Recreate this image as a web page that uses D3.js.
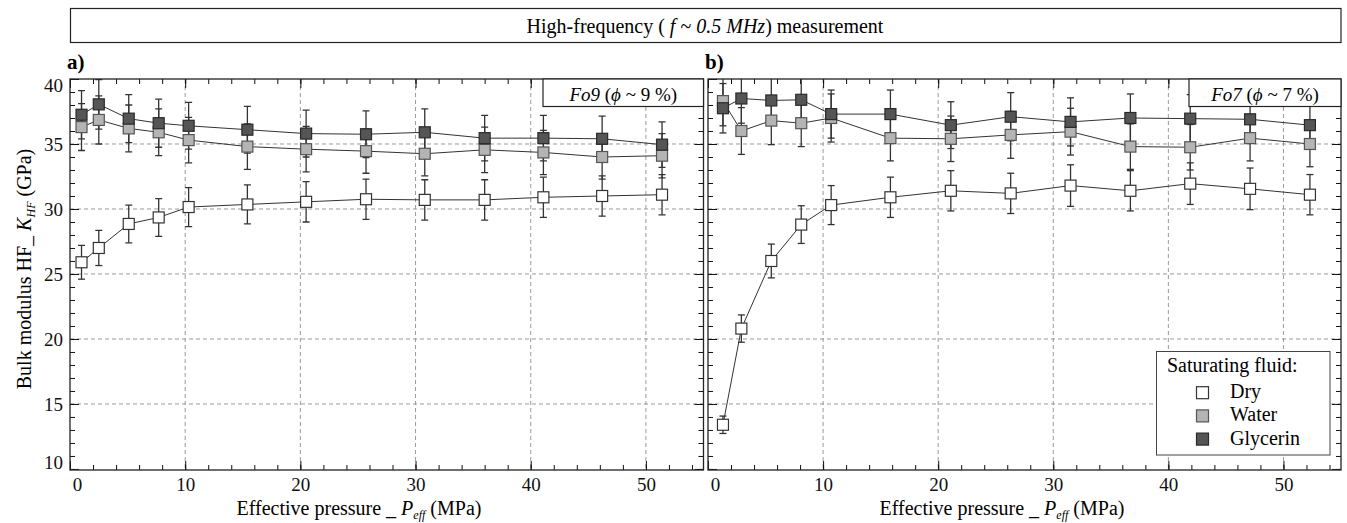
<!DOCTYPE html>
<html>
<head>
<meta charset="utf-8">
<script src="https://cdn.jsdelivr.net/npm/d3@7"></script>
<style>
body { margin: 0; background: #fff; }
svg { font-family: "Liberation Serif", "DejaVu Serif", serif; }
</style>
</head>
<body>
<svg id="svg" width="1347" height="523"></svg>
<script>
// panel a, Fo9
var pressA = [1.0, 2.5, 5.1, 7.7, 10.3, 15.4, 20.5, 25.7, 30.8, 36.0, 41.1, 46.2, 51.4];
var dryA = [25.9, 27.0, 28.85, 29.35, 30.15, 30.35, 30.55, 30.75, 30.7, 30.7, 30.9, 31.0, 31.1];
var dryErrA = [1.3, 1.35, 1.45, 1.45, 1.5, 1.5, 1.55, 1.55, 1.55, 1.55, 1.55, 1.55, 1.55];
var waterA = [36.3, 36.85, 36.2, 35.9, 35.3, 34.8, 34.6, 34.45, 34.25, 34.55, 34.35, 34.0, 34.1];
var waterErrA = [1.8, 1.85, 1.8, 1.8, 1.75, 1.75, 1.75, 1.7, 1.7, 1.75, 1.7, 1.7, 1.7];
var glyA = [37.25, 38.05, 36.95, 36.6, 36.4, 36.1, 35.8, 35.75, 35.9, 35.45, 35.45, 35.4, 34.95];
var glyErrA = [1.85, 1.9, 1.85, 1.85, 1.8, 1.8, 1.8, 1.8, 1.8, 1.75, 1.75, 1.75, 1.75];

// panel b, Fo7
var pressB = [1.3, 2.9, 5.5, 8.1, 10.7, 15.85, 21.1, 26.3, 31.5, 36.7, 41.9, 47.1, 52.3];
var dryB = [13.4, 20.8, 26.0, 28.8, 30.3, 30.9, 31.4, 31.2, 31.8, 31.4, 31.95, 31.55, 31.1];
var dryErrB = [0.67, 1.05, 1.3, 1.45, 1.5, 1.55, 1.55, 1.55, 1.6, 1.55, 1.6, 1.6, 1.55];
var waterB = [38.3, 36.0, 36.8, 36.6, 37.0, 35.45, 35.4, 35.7, 35.95, 34.8, 34.75, 35.45, 35.0];
var waterErrB = [1.9, 1.8, 1.85, 1.8, 1.85, 1.75, 1.75, 1.8, 1.8, 1.75, 1.75, 1.75, 1.75];
var glyB = [37.75, 38.5, 38.35, 38.4, 37.3, 37.3, 36.45, 37.1, 36.7, 37.0, 36.95, 36.9, 36.45];
var glyErrB = [1.9, 1.9, 1.9, 1.9, 1.85, 1.85, 1.8, 1.85, 1.85, 1.85, 1.85, 1.85, 1.8];

var fluids = ["Dry", "Water", "Glycerin"];
var xTicks = [0, 10, 20, 30, 40, 50];
var yTicks = [10, 15, 20, 25, 30, 35, 40];

// look of each fluid
var look = {
    Dry: { fill: "#ffffff", stroke: "#333" },
    Water: { fill: "#b4b4b4", stroke: "#555" },
    Glycerin: { fill: "#555555", stroke: "#2a2a2a" }
};

var svg = d3.select("#svg");
var plotTop = 79, plotBottom = 470;
var y = d3.scaleLinear().domain([9.92, 40]).range([plotBottom, plotTop]);

// big title box
svg.append("rect").attr("x", 70.5).attr("y", 8.5).attr("width", 1270.5).attr("height", 34)
    .attr("fill", "none").attr("stroke", "#222").attr("stroke-width", 1.2);
var title = svg.append("text").attr("x", 705).attr("y", 33).attr("text-anchor", "middle")
    .attr("font-size", 20);
title.append("tspan").text("High-frequency ( ");
title.append("tspan").attr("font-style", "italic").text("f");
title.append("tspan").text(" ~ ");
title.append("tspan").attr("font-style", "italic").text("0.5 MHz");
title.append("tspan").text(") measurement");

var drawPanel = function(id, left, right, press, series, opts) {
    var x = d3.scaleLinear().domain([0, 55]).range([left, right]);
    var g = svg.append("g");

    g.append("clipPath").attr("id", "clip" + id).append("rect")
	.attr("x", left).attr("y", plotTop).attr("width", right - left).attr("height", plotBottom - plotTop);

    // dashed grid
    g.selectAll(".gx").data(xTicks.filter(function(t) { return t > 0; })).enter().append("line")
	.attr("x1", function(d) { return x(d); }).attr("x2", function(d) { return x(d); })
	.attr("y1", plotTop).attr("y2", plotBottom)
	.attr("stroke", "#9a9a9a").attr("stroke-dasharray", "4,3");
    g.selectAll(".gy").data(yTicks.filter(function(t) { return t > 10 && t < 40; })).enter().append("line")
	.attr("x1", left).attr("x2", right)
	.attr("y1", function(d) { return y(d); }).attr("y2", function(d) { return y(d); })
	.attr("stroke", "#9a9a9a").attr("stroke-dasharray", "4,3");

    // ticks on all four sides, pointing in
    var minX = d3.range(0, 56, 2), minY = d3.range(10, 41, 1);
    var tick = function(axis, tx, ty) {
	var a = g.append("g").attr("transform", "translate(" + tx + "," + ty + ")").call(axis);
	a.select(".domain").remove();
	a.selectAll("line").attr("stroke", "#111");
	a.selectAll("text").attr("font-family", "Liberation Serif").attr("font-size", 19).attr("fill", "#111");
	return a;
    };
    tick(d3.axisBottom(x).tickValues(minX).tickSize(-5).tickFormat(""), 0, plotBottom);
    tick(d3.axisTop(x).tickValues(minX).tickSize(-5).tickFormat(""), 0, plotTop);
    tick(d3.axisTop(x).tickValues(xTicks).tickSize(-9).tickFormat(""), 0, plotTop);
    tick(d3.axisLeft(y).tickValues(minY).tickSize(-5).tickFormat(""), left, 0);
    tick(d3.axisRight(y).tickValues(minY).tickSize(-5).tickFormat(""), right, 0);
    tick(d3.axisRight(y).tickValues(yTicks).tickSize(-9).tickFormat(""), right, 0);
    var xa = tick(d3.axisBottom(x).tickValues(xTicks).tickSize(-9).tickPadding(8), 0, plotBottom);
    xa.selectAll("text").filter(function(d) { return d === 0; }).attr("transform", "translate(7,0)");
    var ya = tick(d3.axisLeft(y).tickValues(yTicks).tickSize(-9).tickPadding(7)
		  .tickFormat(opts.yLabels ? null : ""), left, 0);
    ya.selectAll("text").filter(function(d) { return d === 40; }).attr("transform", "translate(0,6)");
    ya.selectAll("text").filter(function(d) { return d === 10; }).attr("transform", "translate(0,-7)");

    // lines and error bars behind the squares
    var plot = g.append("g").attr("clip-path", "url(#clip" + id + ")");
    var line = d3.line().x(function(d) { return x(d.p); }).y(function(d) { return y(d.v); });
    series.forEach(function(s) {
	var pts = press.map(function(p, i) { return { p: p, v: s.vals[i], e: s.errs[i] }; });
	s.pts = pts;
	plot.append("path").datum(pts).attr("d", line)
	    .attr("fill", "none").attr("stroke", "#333").attr("stroke-width", 1);
    });
    series.forEach(function(s) {
	var eb = plot.selectAll(null).data(s.pts).enter().append("g").attr("stroke", "#333").attr("stroke-width", 1.3);
	eb.append("line").attr("x1", function(d) { return x(d.p); }).attr("x2", function(d) { return x(d.p); })
	    .attr("y1", function(d) { return y(d.v - d.e); }).attr("y2", function(d) { return y(d.v + d.e); });
	[-1, 1].forEach(function(k) {
	    eb.append("line").attr("x1", function(d) { return x(d.p) - 3.5; }).attr("x2", function(d) { return x(d.p) + 3.5; })
		.attr("y1", function(d) { return y(d.v + k * d.e); }).attr("y2", function(d) { return y(d.v + k * d.e); });
	});
    });
    series.forEach(function(s) {
	plot.selectAll(null).data(s.pts).enter().append("rect")
	    .attr("x", function(d) { return x(d.p) - 5.5; }).attr("y", function(d) { return y(d.v) - 5.5; })
	    .attr("width", 11).attr("height", 11)
	    .attr("fill", look[s.name].fill).attr("stroke", look[s.name].stroke).attr("stroke-width", 1.2);
    });

    // frame
    g.append("rect").attr("x", left).attr("y", plotTop).attr("width", right - left).attr("height", plotBottom - plotTop)
	.attr("fill", "none").attr("stroke", "#222").attr("stroke-width", 1.3);

    // sample box in the corner
    g.append("rect").attr("x", opts.boxX).attr("y", plotTop).attr("width", right - opts.boxX).attr("height", 27.5)
	.attr("fill", "#fff").attr("stroke", "#222").attr("stroke-width", 1.2);
    var tag = g.append("text").attr("x", (opts.boxX + right) / 2).attr("y", 100.5)
	.attr("text-anchor", "middle").attr("font-size", 19);
    tag.append("tspan").attr("font-style", "italic").text(opts.sample);
    tag.append("tspan").text(" (");
    tag.append("tspan").attr("font-style", "italic").text("\u03d5");
    tag.append("tspan").text(" ~ " + opts.poro + " %)");

    // panel letter
    g.append("text").attr("x", left - 3).attr("y", 69).attr("font-size", 21).attr("font-weight", "bold")
	.text(opts.letter);

    // x axis title
    var xl = g.append("text").attr("x", opts.xLabelX).attr("y", 515).attr("text-anchor", "middle")
	.attr("font-size", 20);
    xl.append("tspan").text("Effective pressure _ ");
    xl.append("tspan").attr("font-style", "italic").text("P");
    xl.append("tspan").attr("font-style", "italic").attr("font-size", 12).attr("dy", 4).text("eff");
    xl.append("tspan").attr("dy", -4).text(" (MPa)");

    return x;
};

drawPanel("a", 70, 703.5, pressA, [
    { name: "Dry", vals: dryA, errs: dryErrA },
    { name: "Water", vals: waterA, errs: waterErrA },
    { name: "Glycerin", vals: glyA, errs: glyErrA }
], { yLabels: true, boxX: 543, sample: "Fo9", poro: 9, letter: "a)", xLabelX: 359 });

drawPanel("b", 708, 1341, pressB, [
    { name: "Dry", vals: dryB, errs: dryErrB },
    { name: "Water", vals: waterB, errs: waterErrB },
    { name: "Glycerin", vals: glyB, errs: glyErrB }
], { yLabels: false, boxX: 1189, sample: "Fo7", poro: 7, letter: "b)", xLabelX: 1002 });

// y axis title
var yl = svg.append("text").attr("transform", "translate(31,269) rotate(-90)")
    .attr("text-anchor", "middle").attr("font-size", 20);
yl.append("tspan").text("Bulk modulus HF_ ");
yl.append("tspan").attr("font-style", "italic").text("K");
yl.append("tspan").attr("font-style", "italic").attr("font-size", 12).attr("dy", 4).text("HF");
yl.append("tspan").attr("dy", -4).text(" (GPa)");

// legend
var lg = svg.append("g");
lg.append("rect").attr("x", 1156.5).attr("y", 351.5).attr("width", 173.5).attr("height", 103.5)
    .attr("fill", "#fff").attr("stroke", "#444").attr("stroke-width", 1);
lg.append("text").attr("x", 1167).attr("y", 371.5).attr("font-size", 20).text("Saturating fluid:");
var items = lg.selectAll(null).data(fluids).enter().append("g")
    .attr("transform", function(d, i) { return "translate(0," + (392.7 + i * 23.2) + ")"; });
items.append("rect").attr("x", 1196.5).attr("y", -6).attr("width", 12).attr("height", 12)
    .attr("fill", function(d) { return look[d].fill; }).attr("stroke", function(d) { return look[d].stroke; })
    .attr("stroke-width", 1.2);
items.append("text").attr("x", 1230).attr("y", 5.5).attr("font-size", 20).text(function(d) { return d; });
</script>
</body>
</html>
